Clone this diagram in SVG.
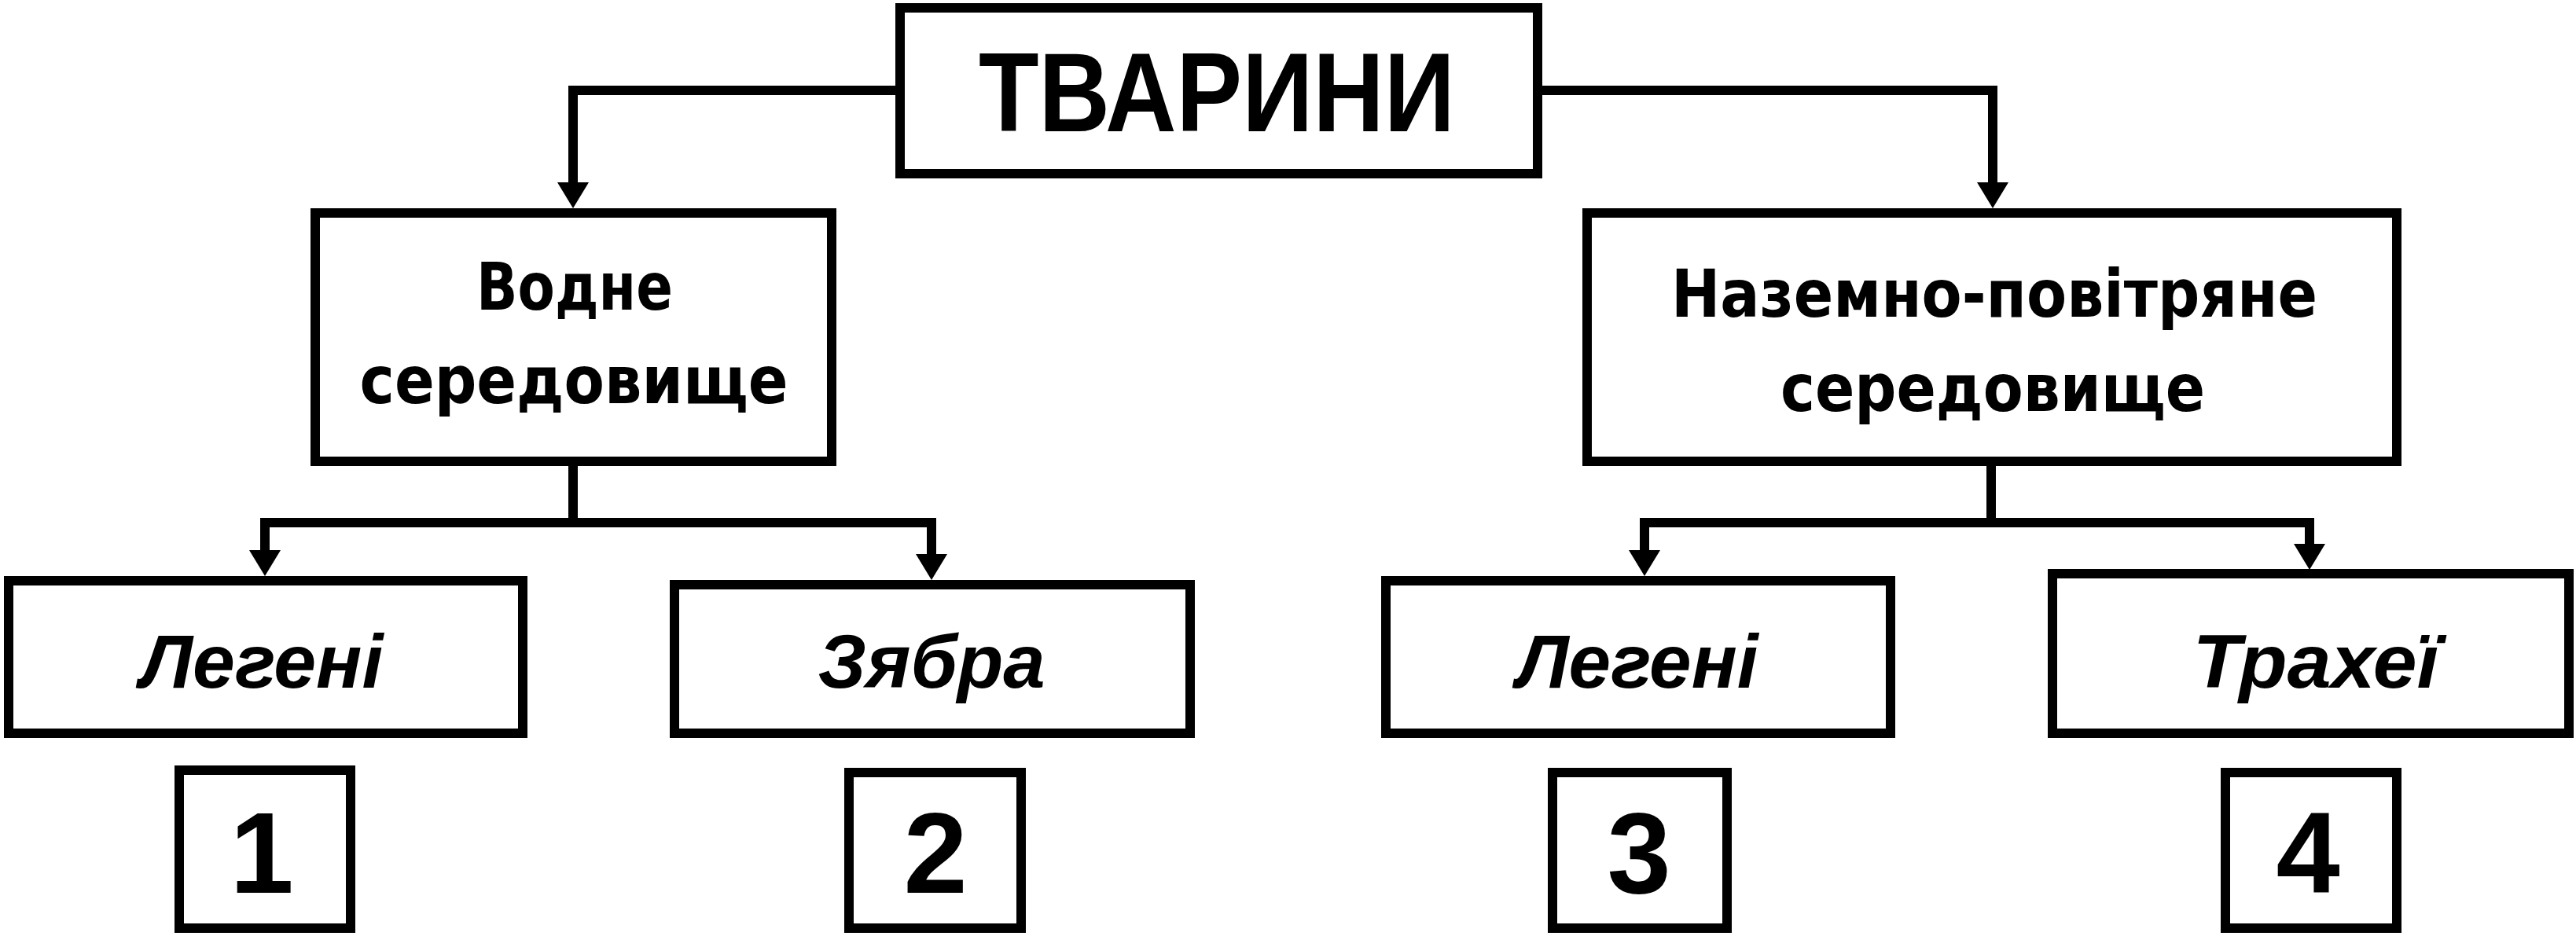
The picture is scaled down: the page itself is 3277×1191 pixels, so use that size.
<svg xmlns="http://www.w3.org/2000/svg" width="3277" height="1191" viewBox="0 0 3277 1191">
<defs>
<style>
.box{fill:#fff;stroke:#000;stroke-width:12}
.conn{fill:none;stroke:#000;stroke-width:12;stroke-linejoin:miter;stroke-linecap:butt}
.title{font-family:"Liberation Sans",Arial,sans-serif;font-weight:bold;font-size:142px;text-anchor:middle}
.env{font-family:"DejaVu Sans","Liberation Sans",sans-serif;font-weight:bold;font-size:84px;text-anchor:middle}
.organ{font-family:"Liberation Sans",Arial,sans-serif;font-weight:bold;font-style:italic;font-size:96px;text-anchor:middle}
.num{font-family:"Liberation Sans",Arial,sans-serif;font-weight:bold;font-size:146px;text-anchor:middle}
</style>
<marker id="arr" markerUnits="userSpaceOnUse" markerWidth="34" markerHeight="42" viewBox="0 -21 34 42" refX="0" refY="0" orient="auto">
<path d="M0,-20 L33,0 L0,20 Z" fill="#000"/>
</marker>
</defs>
<rect width="3277" height="1191" fill="#fff"/>
<g id="connectors">
<path class="conn" d="M1139,115 H729 V232" marker-end="url(#arr)"/>
<path class="conn" d="M1962,115 H2535 V232" marker-end="url(#arr)"/>
<path class="conn" d="M729,593 V665 H337 V700" marker-end="url(#arr)"/>
<path class="conn" d="M729,665 H1185 V705" marker-end="url(#arr)"/>
<path class="conn" d="M2533,593 V665 H2092 V700" marker-end="url(#arr)"/>
<path class="conn" d="M2533,665 H2938 V692" marker-end="url(#arr)"/>
</g>
<g id="tvaryny">
<rect class="box" x="1145" y="10" width="811" height="211"/>
<text class="title" x="1548" y="167" textLength="606" lengthAdjust="spacingAndGlyphs">ТВАРИНИ</text>
</g>
<g id="vodne">
<rect class="box" x="401" y="271" width="657" height="316"/>
<text class="env" x="731" y="394" textLength="250" lengthAdjust="spacingAndGlyphs">Водне</text>
<text class="env" x="730" y="513" textLength="545" lengthAdjust="spacingAndGlyphs">середовище</text>
</g>
<g id="nazemno">
<rect class="box" x="2019" y="271" width="1030" height="316"/>
<text class="env" x="2537" y="403" textLength="822" lengthAdjust="spacingAndGlyphs">Наземно-повітряне</text>
<text class="env" x="2535" y="523" textLength="540" lengthAdjust="spacingAndGlyphs">середовище</text>
</g>
<g id="legeni1">
<rect class="box" x="11" y="739" width="654" height="194"/>
<text class="organ" x="333" y="875" textLength="309" lengthAdjust="spacingAndGlyphs">Легені</text>
</g>
<g id="zyabra">
<rect class="box" x="858" y="744" width="656" height="189"/>
<text class="organ" x="1185" y="875" textLength="289" lengthAdjust="spacingAndGlyphs">Зябра</text>
</g>
<g id="legeni3">
<rect class="box" x="1763" y="739" width="642" height="194"/>
<text class="organ" x="2083" y="875" textLength="307" lengthAdjust="spacingAndGlyphs">Легені</text>
</g>
<g id="trakhei">
<rect class="box" x="2611" y="730" width="657" height="203"/>
<text class="organ" x="2946" y="875" textLength="313" lengthAdjust="spacingAndGlyphs">Трахеї</text>
</g>
<g id="num1">
<rect class="box" x="228" y="980" width="218" height="201"/>
<text class="num" x="333" y="1136">1</text>
</g>
<g id="num2">
<rect class="box" x="1080" y="983" width="219" height="198"/>
<text class="num" x="1190" y="1136">2</text>
</g>
<g id="num3">
<rect class="box" x="1975" y="983" width="222" height="198"/>
<text class="num" x="2085" y="1136">3</text>
</g>
<g id="num4">
<rect class="box" x="2831" y="983" width="218" height="198"/>
<text class="num" x="2936" y="1136">4</text>
</g>
</svg>
